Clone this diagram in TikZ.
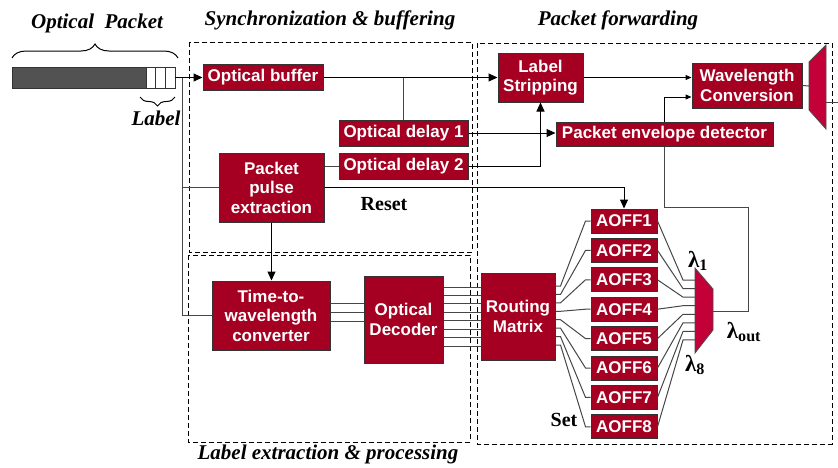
\documentclass[tikz,border=0pt]{standalone}
\usepackage{fontspec}
\setmainfont{Liberation Serif}
\newfontfamily\boxfont{Liberation Sans}
\usetikzlibrary{arrows.meta,decorations.pathreplacing}
\definecolor{boxred}{RGB}{165,0,33}
\definecolor{muxred}{RGB}{195,0,55}
\definecolor{linegray}{RGB}{70,70,70}
\begin{document}
\begin{tikzpicture}[x=1pt,y=-1pt,
    box/.style={draw=black!80,fill=boxred,text=white,font=\boxfont\bfseries\fontsize{17}{19.5}\selectfont,align=center,inner sep=0pt,line width=1pt},
    cell/.style={draw=black!80,fill=white,minimum width=9.67,minimum height=21,inner sep=0pt,line width=.8pt},
    title/.style={font=\bfseries\itshape\fontsize{21}{24}\selectfont},
    tag/.style={font=\bfseries\fontsize{20}{22}\selectfont},
    wave/.style={font=\bfseries\fontsize{23}{25}\selectfont},
    wire/.style={draw=linegray,line width=1pt},
    feed/.style={draw=black,line width=1pt,-{Triangle[length=9pt,width=8pt]}},
    feedsmall/.style={draw=black,line width=1pt,-{Triangle[length=6pt,width=5pt]}},
    area/.style={draw=black,line width=1pt,dash pattern=on 5pt off 3pt},
    mux/.style={draw=black!70,fill=muxred,line width=.8pt}]
        \useasboundingbox(0,0)rectangle(838,467);
        \node[title](pkt)at(97,23){Optical\ \ Packet};
        \node[title](lbl)at(156,118){Label};
        \node[title](sbt)at(330,20){Synchronization \& buffering};
        \node[title](pft)at(618,20){Packet forwarding};
        \node[title](lpt)at(328,454){Label extraction \& processing};
        \draw[area](189,42)rectangle(472,252);
        \draw[area](188,255)rectangle(470,442);
        \draw[area](477,43)rectangle(832,444);
        \node[draw=black!80,fill=black!68,minimum width=134,minimum height=21,inner sep=0pt,line width=.8pt](bar)at(79,77.5){};
        \node[cell](c1)at(150.8,77.5){};
        \node[cell](c2)at(160.5,77.5){};
        \node[cell](c3)at(170.2,77.5){};
        \draw[line width=1pt,decorate,decoration={brace,amplitude=14pt}](12,58)--(178,58);
        \draw[line width=1pt,decorate,decoration={brace,amplitude=9pt}](175,97)--(140,97);
        \node[box,minimum width=120,minimum height=26](ob)at(263,77.5){Optical buffer};
        \node[box,minimum width=129,minimum height=26](od1)at(403.5,133){Optical delay 1};
        \node[box,minimum width=129,minimum height=26](od2)at(403.5,166){Optical delay 2};
        \node[box,minimum width=105,minimum height=69](ppe)at(271.5,187.5){Packet\\pulse\\extraction};
        \node[box,minimum width=85,minimum height=49](ls)at(540.5,77.5){Label\\Stripping};
        \node[box,minimum width=110,minimum height=45](wc)at(747,85.5){Wavelength\\Conversion};
        \node[box,minimum width=217,minimum height=24](ped)at(664.5,134){Packet envelope detector};
        \node[box,minimum width=118,minimum height=69](ttw)at(271,315.5){Time-to-\\wavelength\\converter};
        \node[box,minimum width=79,minimum height=87](dec)at(403.5,319.5){Optical\\Decoder};
        \node[box,minimum width=74,minimum height=87](rm)at(518,316.5){Routing\\Matrix};
        \foreach\i in{1,...,8}
            \node[box,minimum width=66,minimum height=24](a\i)at(624,{221+29.4*(\i-1)}){AOFF\i};
        \draw[mux](695,268)--(713,289)--(713,330)--(695,353)--cycle;
        \draw[mux](809,62)--(826,45)--(826,129)--(809,110)--cycle;
        \node[tag](rst)at(384,204){Reset};
        \node[tag](set)at(564,420){Set};
        \node[wave](l1)at(698,261){λ\textsubscript{1}};
        \node[wave](lout)at(744,332){λ\textsubscript{out}};
        \node[wave](l8)at(695,365){λ\textsubscript{8}};
        \coordinate(j)at(182,77.5);
        \coordinate(mo)at(713,311);
        \coordinate(fb)at(748,207);
        \coordinate(di)at(809,86);
        \coordinate(dout)at(826,102);
        \coordinate(out)at(838,102);
        \draw[feed](c3)--(ob);
        \draw[wire](j)|-(ttw.west);
        \draw[wire](ppe.west)--(ppe.west-|j);
        \draw[feed](ob)--(ls);
        \draw[wire](ob.east-|od1.north)--(od1.north);
        \draw[feed](od1.east)--(od1.east-|ped.west);
        \draw[feed](od2.east)-|(ls.south);
        \draw[wire](od2.west-|ppe.east)--(od2.west);
        \draw[feed](ppe.east)-|(a1.north);
        \draw[feed](ppe.south)--(ppe.south|-ttw.north);
        \foreach\y in{303,312,321}
            \draw[wire](ttw.east|-0,\y)--(dec.west|-0,\y);
        \foreach[evaluate=\i as\y using 287+8.43*\i]\i in{0,...,7}
            \draw[wire](dec.east|-0,\y)--(rm.west|-0,\y);
        \foreach[evaluate=\i as\y using 286+8.43*(\i-1),evaluate=\i as\m using 280+8.57*(\i-1)]\i in{1,...,8}{
            \coordinate(m\i)at(695,\m);
            \draw[wire](rm.east|-0,\y)--++(5,0)--([xshift=-5pt]a\i.west)--(a\i.west);
            \draw[wire](a\i.east)--([xshift=-12pt]m\i)--(m\i);
        }
        \draw[wire](mo)-|(fb)-|(ped.south);
        \draw[feedsmall](ped.north)|-([yshift=-11.5pt]wc.west);
        \draw[feedsmall](ls.east)--(ls.east-|wc.west);
        \draw[wire](wc.east)--(di);
        \draw[wire](dout)--(out);
    \end{tikzpicture}
\end{document}
